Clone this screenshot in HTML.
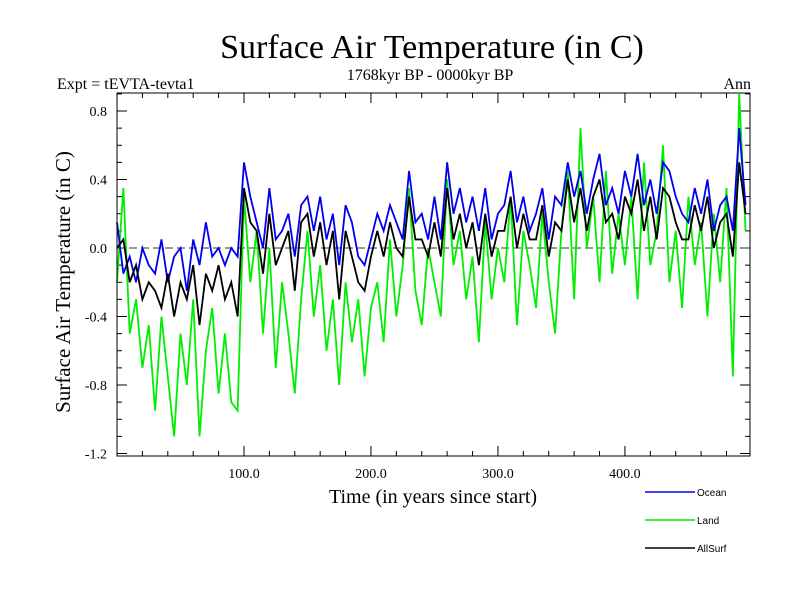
<!DOCTYPE html>
<html><head><meta charset="utf-8"><style>
body{margin:0;background:#fff}
</style></head><body>
<svg id="c" width="800" height="600" xmlns="http://www.w3.org/2000/svg" font-family="Liberation Serif, serif">
<text x="432" y="58" font-size="34" text-anchor="middle">Surface Air Temperature (in C)</text>
<text x="430" y="80" font-size="16" text-anchor="middle">1768kyr BP - 0000kyr BP</text>
<text x="57" y="89" font-size="16">Expt = tEVTA-tevta1</text>
<text x="751" y="89" font-size="16" text-anchor="end">Ann</text>
<text transform="translate(70,282) rotate(-90)" font-size="21" text-anchor="middle">Surface Air Temperature (in C)</text>
<text x="433" y="503" font-size="20" text-anchor="middle">Time (in years since start)</text>
<g id="ticks"></g>
<g id="series"></g>
<rect x="117" y="93" width="633" height="363" fill="none" stroke="#000" stroke-width="1"/>
<g id="legend" font-family="Liberation Sans, sans-serif" font-size="10"></g>
</svg>
<script>
const years = Array.from({length:100},(_,i)=>i*5);
const ocean = [0.15,-0.15,-0.05,-0.2,0.0,-0.1,-0.15,0.05,-0.2,-0.05,
0.0,-0.25,0.05,-0.1,0.15,-0.05,0.0,-0.1,0.0,-0.05,
0.5,0.3,0.15,0.0,0.35,0.05,0.1,0.2,-0.05,0.25,
0.3,0.1,0.3,0.05,0.2,-0.1,0.25,0.15,-0.05,-0.1,
0.05,0.2,0.1,0.25,0.15,0.05,0.45,0.15,0.2,0.05,
0.3,0.05,0.5,0.2,0.35,0.15,0.3,0.1,0.35,0.05,
0.2,0.25,0.45,0.15,0.3,0.1,0.2,0.35,0.05,0.3,
0.25,0.5,0.3,0.45,0.2,0.4,0.55,0.25,0.35,0.2,
0.45,0.3,0.55,0.25,0.4,0.2,0.5,0.45,0.3,0.2,
0.15,0.35,0.2,0.4,0.1,0.25,0.3,0.1,0.7,0.25];
const land = [-0.2,0.35,-0.5,-0.3,-0.7,-0.45,-0.95,-0.4,-0.75,-1.1,
-0.5,-0.8,-0.3,-1.1,-0.6,-0.35,-0.85,-0.5,-0.9,-0.95,
0.3,-0.2,0.1,-0.5,0.0,-0.7,-0.2,-0.5,-0.85,-0.3,
0.1,-0.4,-0.1,-0.6,-0.3,-0.8,-0.2,-0.55,-0.3,-0.75,
-0.35,-0.2,-0.55,0.05,-0.4,-0.1,0.35,-0.25,-0.45,0.0,
-0.2,-0.4,0.4,-0.1,0.1,-0.3,-0.05,-0.55,0.15,-0.3,
0.0,-0.2,0.3,-0.45,0.1,-0.1,-0.35,0.2,-0.2,-0.5,
0.1,0.45,-0.3,0.7,0.0,0.3,-0.2,0.45,-0.15,0.2,
-0.1,0.3,-0.3,0.5,-0.1,0.1,0.6,-0.2,0.1,-0.35,
0.3,-0.1,0.15,-0.4,0.2,-0.2,0.35,-0.75,0.9,0.1];
const allsurf = [0.0,0.05,-0.2,-0.1,-0.3,-0.2,-0.25,-0.35,-0.15,-0.4,
-0.2,-0.3,-0.1,-0.45,-0.15,-0.25,-0.1,-0.3,-0.2,-0.4,
0.35,0.15,0.1,-0.15,0.2,-0.1,0.0,0.1,-0.25,0.15,
0.2,-0.05,0.15,-0.1,0.1,-0.3,0.1,-0.05,-0.2,-0.25,
-0.05,0.1,-0.05,0.15,0.0,-0.05,0.3,0.05,0.05,-0.05,
0.15,-0.05,0.35,0.05,0.2,0.0,0.15,-0.1,0.2,-0.05,
0.1,0.1,0.3,0.0,0.2,0.05,0.05,0.25,-0.05,0.15,
0.1,0.4,0.15,0.35,0.1,0.3,0.4,0.15,0.2,0.05,
0.3,0.2,0.4,0.1,0.3,0.05,0.35,0.3,0.15,0.05,
0.05,0.25,0.1,0.3,0.0,0.15,0.2,-0.05,0.5,0.2];
const yTickLabels = ["0.8","0.4","0.0","-0.4","-0.8","-1.2"];
const yTickValues = [0.8,0.4,0.0,-0.4,-0.8,-1.2];
const xTickLabels = ["100.0","200.0","300.0","400.0"];
const xTickValues = [100,200,300,400];

const L=117,R=750,T=93,B=456;
const x = v => L + (v/498.5)*(R-L);
const y = v => 248 - v*171.25;
const NS="http://www.w3.org/2000/svg";
function mk(tag,attrs,parent){const e=document.createElementNS(NS,tag);for(const k in attrs)e.setAttribute(k,attrs[k]);parent.appendChild(e);return e;}
const tk=document.getElementById('ticks');
for(let v=-1.2;v<=0.9001;v+=0.1){
  const r=Math.round(v*10)/10, major=Math.abs(Math.round(r*10)%4)===0, len=major?10:5;
  const yy=y(r);
  const t1=mk('line',{x1:L,x2:L+len,y1:yy,y2:yy,stroke:'#000'},tk);
  
  
  const t2=mk('line',{x1:R,x2:R-len,y1:yy,y2:yy,stroke:'#000'},tk);
  
  
}
yTickValues.forEach((v,i)=>{
  const t=mk('text',{x:L-10,y:y(v)+5,'font-size':14,'text-anchor':'end'},tk);
  t.textContent=yTickLabels[i];
  
  
});
for(let v=20;v<500;v+=20){
  const major=v%100===0,len=major?10:5,xx=x(v);
  const t1=mk('line',{x1:xx,x2:xx,y1:B,y2:B-len,stroke:'#000'},tk);
  
  
  const t2=mk('line',{x1:xx,x2:xx,y1:T,y2:T+len,stroke:'#000'},tk);
  
  
}
xTickValues.forEach((v,i)=>{
  const t=mk('text',{x:x(v),y:478,'font-size':14,'text-anchor':'middle'},tk);
  t.textContent=xTickLabels[i];
  
  
});
const sg=document.getElementById('series');
const zl=mk('line',{x1:L,x2:R,y1:y(0),y2:y(0),stroke:'#333','stroke-dasharray':'8,4'},sg);


function line(vals,color,name){
  const p=mk('polyline',{points:vals.map((v,i)=>x(years[i])+','+y(v)).join(' '),fill:'none',stroke:color,'stroke-width':1.8},sg);
  
  
}
line(land,'#00ee00','land-line');
line(ocean,'#0000ee','ocean-line');
line(allsurf,'#000000','allsurf-line');
const lg=document.getElementById('legend');
[['Ocean','#0000ee',492],['Land','#00ee00',520],['AllSurf','#000',548]].forEach(([n,c,yy])=>{
  const l=mk('line',{x1:645,x2:695,y1:yy,y2:yy,stroke:c,'stroke-width':1.5},lg);
  
  
  const t=mk('text',{x:697,y:yy+4},lg);
  t.textContent=n;
  
  
});
</script>
</body></html>
